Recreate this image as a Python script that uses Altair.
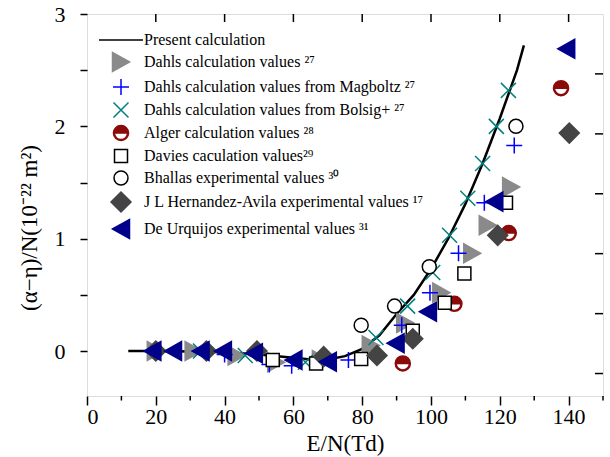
import altair as alt
import pandas as pd

FONT = "Liberation Serif"

# ---- data -------------------------------------------------------------
series_names = [
    "Present calculation",
    "Dahls calculation values ²⁷",
    "Dahls calculation values from Magboltz ²⁷",
    "Dahls calculation values from Bolsig+ ²⁷",
    "Alger calculation values ²⁸",
    "Davies caculation values²⁹",
    "Bhallas experimental values ³⁰",
    "J L Hernandez-Avila experimental values ¹⁷",
    "De Urquijos experimental values ³¹",
]
y_title = ["(α−η)/N(10⁻²² m²)"]

# present calculation (solid curve)
curve_en = [12, 20, 30, 40, 50, 60, 65, 70, 75, 80, 85, 90, 95, 100, 105, 110, 115, 120, 125, 127]
curve_val = [0.0, 0.0, -0.005, -0.01, -0.03, -0.06, -0.075, -0.075, -0.045, 0.02,
             0.14, 0.33, 0.5, 0.73, 1.0, 1.31, 1.67, 2.07, 2.5, 2.72]

dahls_en = [20, 31, 43.5, 55, 68, 82.5, 92.5, 103, 112, 116.5, 123.3]
dahls_val = [0.0, 0.0, -0.04, -0.1, -0.08, 0.05, 0.25, 0.52, 0.87, 1.12, 1.46]

magboltz_en = [40, 53, 59.5, 76, 91.5, 99.7, 108, 115.5, 124.2]
magboltz_val = [-0.03, -0.12, -0.13, -0.08, 0.23, 0.52, 0.87, 1.32, 1.83]

bolsig_en = [33, 46, 63.5, 84, 93.2, 100.5, 105.4, 110.7, 115, 119, 122.5]
bolsig_val = [0.0, -0.04, -0.1, 0.12, 0.4, 0.7, 1.03, 1.36, 1.67, 2.0, 2.32]

alger_en = [91.8, 106.8, 122.6, 137.8]
alger_val = [-0.11, 0.42, 1.05, 2.34]

davies_en = [54, 66.6, 79.7, 94.7, 104, 109.7, 121.8]
davies_val = [-0.08, -0.11, -0.07, 0.18, 0.43, 0.69, 1.32]

bhallas_en = [79.7, 89.4, 99.5, 124.7]
bhallas_val = [0.23, 0.4, 0.75, 2.0]

hernandez_en = [20, 34.7, 49.4, 68.8, 84.3, 94.7, 119.4, 140.2]
hernandez_val = [0.0, 0.0, 0.0, -0.05, -0.04, 0.11, 1.03, 1.94]

urquijo_en = [19, 25, 33, 39.5, 48.5, 60, 70, 89.7, 99.1, 118.4, 139.3]
urquijo_val = [0.0, 0.0, 0.0, 0.0, -0.02, -0.08, -0.095, 0.07, 0.35, 1.33, 2.69]

x_major = [0, 20, 40, 60, 80, 100, 120, 140]
x_minor = [10, 30, 50, 70, 90, 110, 130, 150]
y_ticks = [0, 0.5, 1, 1.5, 2, 2.5, 3]
top_ticks = [20, 40, 60, 80, 100, 120, 140]
right_ticks = [2.467, 1.933, 1.4, 0.867, 0.333, -0.2]

# ---- marker styles (paths in the unit square) --------------------------
shapes = [
    "M-2.2,0H2.2",                                                  # line
    "M0.85,0L-0.85,-0.95L-0.85,0.95Z",                              # triangle right
    "M-0.8,0H0.8M0,-0.8V0.8",                                       # plus
    "M-0.75,-0.75L0.75,0.75M-0.75,0.75L0.75,-0.75",                 # x
    "M-0.75,0A0.75,0.75 0 0 1 0.75,0Z"
    "M0.75,0A0.75,0.75 0 0 1 -0.75,0L-0.66,0A0.66,0.66 0 0 0 0.66,0Z",  # half-filled circle
    "M-0.65,-0.65H0.65V0.65H-0.65Z",                                # square
    "M-0.7,0A0.7,0.7 0 1 1 0.7,0A0.7,0.7 0 1 1 -0.7,0Z",            # circle
    "M-1,0L0,-1L1,0L0,1Z",                                          # diamond
    "M-0.85,0L0.85,-0.95L0.85,0.95Z",                               # triangle left
]
fills = ["transparent", "#8a8a8a", "transparent", "transparent", "#8b0a0a",
         "white", "white", "#444444", "#00008b"]
strokes = ["black", "#8a8a8a", "#0000ff", "#008080", "#8b0a0a",
           "black", "black", "#444444", "#00008b"]

# ---- tables -----------------------------------------------------------
curve_df = pd.DataFrame({"en": curve_en, "val": curve_val})

point_sets = [
    (dahls_en, dahls_val), (magboltz_en, magboltz_val), (bolsig_en, bolsig_val),
    (alger_en, alger_val), (davies_en, davies_val), (bhallas_en, bhallas_val),
    (hernandez_en, hernandez_val), (urquijo_en, urquijo_val),
]
rows = []
for k, (xs, ys) in enumerate(point_sets):
    for x, y in zip(xs, ys):
        rows.append({"en": x, "val": y, "series": series_names[k + 1], "order": k})
points_df = pd.DataFrame(rows)

W, H = 516, 382

x_scale = alt.Scale(domain=[0, 150], nice=False, zero=False)
y_scale = alt.Scale(domain=[-0.4, 3], nice=False, zero=False)

x_axis = alt.Axis(
    values=x_major, format="d", title="E/N(Td)", tickSize=9, tickWidth=1.5,
    tickColor="black", domain=False, grid=False, labelFont=FONT, labelFontSize=22,
    labelColor="black", labelPadding=1, titleFont=FONT, titleFontSize=23,
    titleFontWeight="normal", titleColor="black", titlePadding=5,
)
y_axis = alt.Axis(
    values=y_ticks, labelExpr="datum.value % 1 === 0 ? format(datum.value, 'd') : ''",
    title=None, tickSize=7, tickWidth=1.5, tickColor="black",
    domain=False, grid=False, labelFont=FONT, labelFontSize=22, labelColor="black",
    labelPadding=15,
)

legend = alt.Legend(
    title=None, orient="none", legendX=23, legendY=15, padding=0,
    labelFont=FONT, labelFontSize=16, labelColor="black", labelOffset=12,
    symbolSize=400, symbolStrokeWidth=1.5, rowPadding=1, labelLimit=400,
)

X = alt.X("en:Q", scale=x_scale, axis=x_axis, title="E/N(Td)")
Y = alt.Y("val:Q", scale=y_scale, axis=y_axis, title=None)

line = alt.Chart(curve_df).mark_line(color="black", strokeWidth=2.5).encode(x=X, y=Y)

pts = alt.Chart(points_df).mark_point(opacity=1, size=400, strokeWidth=1.5).encode(
    x=X,
    y=Y,
    shape=alt.Shape("series:N", scale=alt.Scale(domain=series_names, range=shapes), legend=legend),
    fill=alt.Fill("series:N", scale=alt.Scale(domain=series_names, range=fills), legend=legend),
    stroke=alt.Stroke("series:N", scale=alt.Scale(domain=series_names, range=strokes), legend=legend),
    order=alt.Order("order:Q"),
)

# minor ticks below the bottom axis
minor = alt.Chart(pd.DataFrame({"en": x_minor})).mark_rule(color="black", strokeWidth=1.5).encode(
    x=X, y=alt.value(H), y2=alt.value(H + 4.5)
)
# inward ticks along the top and right edges
top = alt.Chart(pd.DataFrame({"en": top_ticks})).mark_rule(color="black", strokeWidth=1.5).encode(
    x=X, y=alt.value(0), y2=alt.value(8)
)
right = alt.Chart(pd.DataFrame({"val": right_ticks})).mark_rule(color="black", strokeWidth=1.5).encode(
    y=Y, x=alt.value(W), x2=alt.value(W - 8)
)

# rotated y-axis title
ytitle = alt.Chart(pd.DataFrame({"t": y_title})).mark_text(
    font=FONT, fontSize=23, color="black", angle=270, align="center", baseline="middle"
).encode(text="t:N", x=alt.value(-57), y=alt.value(214))

chart = alt.layer(line, minor, top, right, pts, ytitle).properties(
    width=W, height=H,
    autosize=alt.AutoSizeParams(type="none"),
    padding={"left": 87, "top": 14, "right": 7, "bottom": 61},
    background="white",
).configure_view(stroke="black", strokeWidth=1.5).configure(font=FONT)

chart.save("out.html", embed_options={"renderer": "svg", "actions": False})
